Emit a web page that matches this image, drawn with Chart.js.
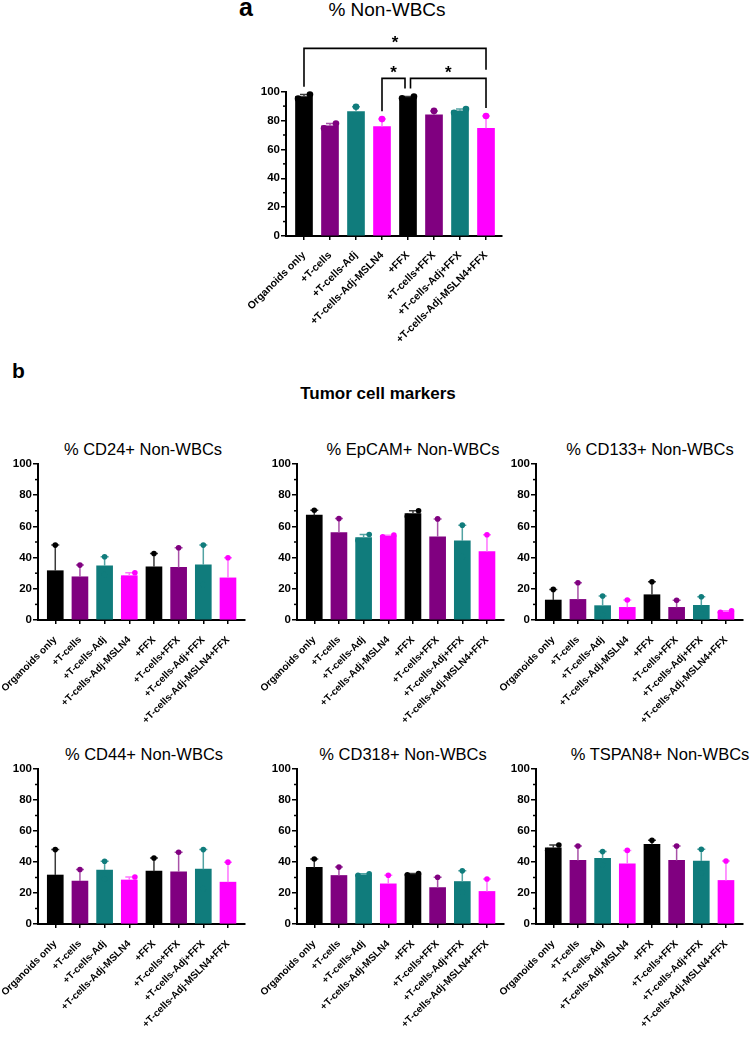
<!DOCTYPE html>
<html>
<head>
<meta charset="utf-8">
<script src="https://cdn.jsdelivr.net/npm/chart.js@4.4.1/dist/chart.umd.min.js"></script>
<style>
  html, body { margin: 0; padding: 0; background: #fff; }
  #page { position: relative; width: 755px; height: 1040px; overflow: hidden;
          font-family: "Liberation Sans", Arial, sans-serif; color: #000; }
  canvas { position: absolute; }
  .lbl { position: absolute; white-space: nowrap; line-height: 1; font-weight: bold; }
  .title { position: absolute; width: 300px; text-align: center; white-space: nowrap;
           line-height: 1; font-size: 16.5px; }
</style>
</head>
<body>
<div id="page">
  <div class="lbl" style="left:239px; top:-5px; font-size:25px;">a</div>
  <div class="title" style="left:237px; top:0px; font-size:19px;">% Non-WBCs</div>

  <div class="lbl" style="left:12px; top:360px; font-size:21px;">b</div>
  <div class="title" style="left:228px; top:385px; font-size:17px; font-weight:bold;">Tumor cell markers</div>

  <div class="title" style="left:-7px; top:441px;">% CD24+ Non-WBCs</div>
  <div class="title" style="left:263px; top:441px;">% EpCAM+ Non-WBCs</div>
  <div class="title" style="left:500px; top:441px;">% CD133+ Non-WBCs</div>
  <div class="title" style="left:-6px; top:746px;">% CD44+ Non-WBCs</div>
  <div class="title" style="left:253px; top:746px;">% CD318+ Non-WBCs</div>
  <div class="title" style="left:510px; top:746px;">% TSPAN8+ Non-WBCs</div>
</div>

<script>
  // groups on the x axis
  const groups = ['Organoids only', '+T-cells', '+T-cells-Adj', '+T-cells-Adj-MSLN4',
                  '+FFX', '+T-cells+FFX', '+T-cells-Adj+FFX', '+T-cells-Adj-MSLN4+FFX'];
  const barColors = ['#000000', '#800080', '#107c7c', '#ff00ff'];
  const errColors = ['#3a3a3a', '#a852a8', '#52a3a3', '#ff73ff'];
  const yMax = 100;
  const yStep = 20;

  // a: % Non-WBCs  (mean, upper replicate, lower replicate)
  const nonWbcMean = [96.6, 76.3, 86.2, 75.9, 96.1, 83.9, 86.7, 74.7];
  const nonWbcHi   = [98.0, 78.0, 89.6, 81.0, 96.7, 86.7, 88.0, 83.2];
  const nonWbcLo   = [95.2, 74.6, 82.8, 70.8, 95.5, 81.1, 85.4, 66.2];
  const nonWbcSig  = [[0, 7, '*'], [3, 4, '*'], [4, 7, '*']];

  // b: tumor cell markers
  const cd24Mean = [31.6, 27.7, 34.8, 28.4, 34.1, 33.7, 35.4, 27.0];
  const cd24Hi   = [48.0, 35.2, 40.5, 30.3, 42.6, 46.3, 48.0, 39.9];
  const cd24Lo   = [15.2, 20.2, 29.1, 26.5, 25.6, 21.1, 22.8, 14.1];

  const epcamMean = [67.2, 56.0, 52.9, 53.9, 68.2, 53.3, 50.7, 43.9];
  const epcamHi   = [70.4, 65.0, 54.8, 54.4, 70.0, 64.8, 60.8, 54.6];
  const epcamLo   = [64.0, 47.0, 51.0, 53.4, 66.4, 41.8, 40.6, 33.2];

  const cd133Mean = [12.8, 13.2, 9.2, 8.1, 16.2, 8.1, 9.4, 5.3];
  const cd133Hi   = [19.6, 23.9, 15.4, 12.8, 24.5, 12.6, 14.9, 5.9];
  const cd133Lo   = [6.0, 2.5, 3.0, 3.4, 7.9, 3.6, 3.9, 5.0];

  const cd44Mean = [31.6, 27.7, 34.8, 28.4, 34.1, 33.7, 35.4, 27.0];
  const cd44Hi   = [48.0, 35.2, 40.5, 30.3, 42.6, 46.3, 48.0, 39.9];
  const cd44Lo   = [15.2, 20.2, 29.1, 26.5, 25.6, 21.1, 22.8, 14.1];

  const cd318Mean = [36.5, 31.3, 31.8, 25.9, 32.2, 23.5, 27.4, 21.0];
  const cd318Hi   = [41.9, 36.7, 32.4, 31.5, 32.6, 30.2, 34.3, 29.0];
  const cd318Lo   = [31.1, 25.9, 31.4, 20.3, 31.8, 16.8, 20.5, 13.0];

  const tspan8Mean = [49.2, 41.0, 42.3, 38.9, 51.4, 41.0, 40.6, 28.1];
  const tspan8Hi   = [51.0, 50.3, 46.7, 47.5, 54.0, 50.3, 48.2, 40.6];
  const tspan8Lo   = [47.4, 31.7, 37.9, 30.3, 48.8, 31.7, 33.0, 15.6];

  const FONT = '"Liberation Sans", Arial, sans-serif';
  const Y_W = 60;   // width kept for the y axis box
  const PAD_R = 8;

  // error bars (upper only), replicate dots, minor ticks and brackets
  function marksPlugin(o) {
    return {
      id: 'marks',
      afterDatasetsDraw(chart) {
        const ctx = chart.ctx, xs = chart.scales.x, ys = chart.scales.y;
        ctx.save();
        o.mean.forEach((m, i) => {
          const x = xs.getPixelForValue(i);
          const yM = ys.getPixelForValue(m);
          const yH = ys.getPixelForValue(o.hi[i]);
          const yL = ys.getPixelForValue(o.lo[i]);
          // error bar
          ctx.strokeStyle = errColors[i % 4];
          ctx.lineWidth = 1.5;
          ctx.beginPath();
          ctx.moveTo(x, yM);
          ctx.lineTo(x, yH);
          ctx.moveTo(x - o.capW, yH);
          ctx.lineTo(x + o.capW, yH);
          ctx.stroke();
          // replicate dots, side by side when they would overlap
          const close = Math.abs(yL - yH) < 2 * o.dotR + 1;
          const dx = close ? o.barW * 0.35 : 0;
          ctx.fillStyle = barColors[i % 4];
          ctx.beginPath();
          ctx.arc(x - dx, yL, o.dotR, 0, Math.PI * 2);
          ctx.fill();
          ctx.beginPath();
          ctx.arc(x + dx, yH, o.dotR, 0, Math.PI * 2);
          ctx.fill();
        });
        ctx.restore();
      },
      afterDraw(chart) {
        const ctx = chart.ctx, ys = chart.scales.y, left = chart.chartArea.left;
        ctx.save();
        ctx.strokeStyle = '#000';
        ctx.lineWidth = 1.5;
        for (let v = yStep / 2; v < yMax; v += yStep) {
          const y = ys.getPixelForValue(v);
          ctx.beginPath();
          ctx.moveTo(left - 3, y);
          ctx.lineTo(left, y);
          ctx.stroke();
        }
        if (o.sig) drawBrackets(chart, o.sig, o.hi);
        ctx.restore();
      }
    };
  }

  function drawBrackets(chart, sig, hi) {
    const ctx = chart.ctx, xs = chart.scales.x, ys = chart.scales.y;
    const br = sig.map(s => ({ from: s[0], to: s[1], text: s[2] }));
    br.forEach(b => {
      const inner = br.filter(c => c !== b && c.from >= b.from && c.to <= b.to);
      b.level = inner.length ? 1 : 0;
    });
    const levelVal = lv => 109.2 + lv * 20.8;
    const legEnd = (b, i) => {
      let v = hi[i] + 5.5;
      br.forEach(c => {
        if (c.level < b.level && c.from <= i && c.to >= i) v = Math.max(v, levelVal(c.level) + 6);
      });
      return ys.getPixelForValue(v);
    };
    ctx.strokeStyle = '#000';
    ctx.fillStyle = '#000';
    ctx.lineWidth = 1.6;
    ctx.font = 'bold 17px ' + FONT;
    ctx.textAlign = 'center';
    ctx.textBaseline = 'alphabetic';
    br.forEach(b => {
      let xl = xs.getPixelForValue(b.from);
      let xr = xs.getPixelForValue(b.to);
      if (br.some(c => c !== b && c.level === b.level && c.to === b.from)) xl += 2.5;
      if (br.some(c => c !== b && c.level === b.level && c.from === b.to)) xr -= 3;
      const yTop = ys.getPixelForValue(levelVal(b.level));
      ctx.beginPath();
      ctx.moveTo(xl, legEnd(b, b.from));
      ctx.lineTo(xl, yTop);
      ctx.lineTo(xr, yTop);
      ctx.lineTo(xr, legEnd(b, b.to));
      ctx.stroke();
      ctx.fillText(b.text, (xl + xr) / 2, yTop);
    });
  }

  function barChart(o) {
    const canvas = document.createElement('canvas');
    const areaW = o.areaRight - o.axisX;
    const areaH = o.areaBottom - o.areaTop;
    canvas.width = Y_W + areaW + PAD_R;
    canvas.height = o.padTop + areaH + o.xH;
    canvas.style.left = (o.axisX - Y_W) + 'px';
    canvas.style.top = (o.areaTop - o.padTop) + 'px';
    document.getElementById('page').appendChild(canvas);

    return new Chart(canvas, {
      type: 'bar',
      data: {
        datasets: [{
          data: o.mean.map((v, i) => ({ x: i, y: v })),
          backgroundColor: o.mean.map((v, i) => barColors[i % 4]),
          borderWidth: 0,
          barThickness: o.barW
        }]
      },
      options: {
        responsive: false,
        animation: false,
        layout: { padding: { top: o.padTop, right: PAD_R, left: 0, bottom: 0 } },
        plugins: { legend: { display: false }, tooltip: { enabled: false }, title: { display: false } },
        scales: {
          x: {
            type: 'linear',
            min: o.xmin,
            max: o.xmax,
            offset: false,
            grid: { offset: false, drawOnChartArea: false, color: '#000', lineWidth: 1.5, tickLength: 4 },
            border: { color: '#000', width: 2 },
            ticks: {
              stepSize: 1,
              includeBounds: false,
              autoSkip: false,
              minRotation: 45,
              maxRotation: 45,
              padding: o.labelPad,
              color: '#000',
              font: { family: FONT, size: o.labelSize, weight: 'bold' },
              callback: v => Number.isInteger(v) ? groups[v] : ''
            },
            afterFit: s => { s.height = o.xH; }
          },
          y: {
            min: 0,
            max: yMax,
            grid: { drawOnChartArea: false, color: '#000', lineWidth: 1.5, tickLength: 5 },
            border: { color: '#000', width: 2 },
            ticks: {
              stepSize: yStep,
              padding: 1,
              color: '#000',
              font: { family: FONT, size: 11.5, weight: 'bold' }
            },
            afterFit: s => { s.width = Y_W; }
          }
        }
      },
      plugins: [marksPlugin(o)]
    });
  }

  // panel a
  barChart({ axisX: 286, areaRight: 502, areaTop: 91.7, areaBottom: 236.7, padTop: 91.7, xH: 125,
             xmin: -0.692, xmax: 7.615, barW: 17, capW: 4, dotR: 3.3, labelSize: 10.5, labelPad: 9,
             mean: nonWbcMean, hi: nonWbcHi, lo: nonWbcLo, sig: nonWbcSig });

  // panel b
  const cols = [38.3, 296.7, 536];
  const rows = [[464, 620], [769, 924]];
  const panels = [
    [cd24Mean, cd24Hi, cd24Lo], [epcamMean, epcamHi, epcamLo], [cd133Mean, cd133Hi, cd133Lo],
    [cd44Mean, cd44Hi, cd44Lo], [cd318Mean, cd318Hi, cd318Lo], [tspan8Mean, tspan8Hi, tspan8Lo]
  ];
  panels.forEach((p, k) => {
    const ax = cols[k % 3];
    const r = rows[Math.floor(k / 3)];
    barChart({ axisX: ax, areaRight: ax + 207, areaTop: r[0], areaBottom: r[1], padTop: 10, xH: 120,
               xmin: -0.7, xmax: 7.69, barW: 16, capW: 4, dotR: 2.8, labelSize: 10, labelPad: 10,
               mean: p[0], hi: p[1], lo: p[2] });
  });
</script>
</body>
</html>
